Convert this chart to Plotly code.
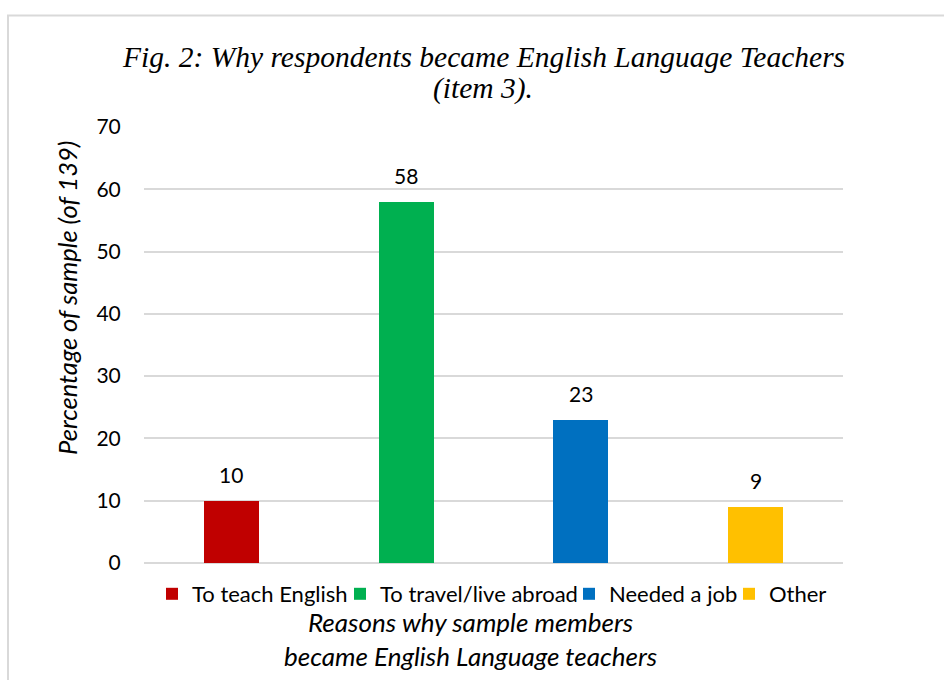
import plotly.graph_objects as go

# Survey results: why respondents became English language teachers
categories = ["To teach English", "To travel/live abroad", "Needed a job", "Other"]
percentages = [10, 58, 23, 9]
bar_colors = ["#C00000", "#00B050", "#0070C0", "#FFC000"]
y_ticks = [0, 10, 20, 30, 40, 50, 60, 70]

title_lines = ["Fig. 2: Why respondents became English Language Teachers", "(item 3)."]
y_title = "Percentage of sample (of 139)"
x_title = "Reasons why sample members<br>became English Language teachers"

SANS = "Lato, 'Open Sans', sans-serif"
SERIF = "'Liberation Serif', 'Times New Roman', serif"

W, H = 944, 680
L, R, T, B = 144, 101, 127, 117
pw, ph = W - L - R, H - T - B


def px_x(p):
    return (p - L) / pw


def px_y(p):
    return (H - B - p) / ph


# left edge (px) of each legend swatch, one legend box per series
legend_left = [166, 354, 583, 743]

fig = go.Figure()
legend_layouts = {}
for i, (name, val, col) in enumerate(zip(categories, percentages, bar_colors)):
    lg = "legend" if i == 0 else f"legend{i + 1}"
    fig.add_trace(go.Bar(
        x=[name], y=[val], name=name, legend=lg,
        marker=dict(color=col, line=dict(width=0)),
        width=0.315, hoverinfo="x+y",
    ))
    legend_layouts[lg] = dict(
        orientation="h", x=px_x(legend_left[i] - 14), xanchor="left",
        y=px_y(594), yanchor="middle",
        font=dict(family=SANS, size=22, color="#000000"),
        bgcolor="rgba(0,0,0,0)", borderwidth=0,
        itemclick=False, itemdoubleclick=False,
    )
    fig.add_annotation(
        x=name, y=val, xref="x", yref="y", text=str(val), showarrow=False,
        yanchor="bottom", yshift=12, font=dict(family=SANS, size=21, color="#000000"),
    )

# Chart title, two lines
for line, ypx in zip(title_lines, [57, 88]):
    fig.add_annotation(
        x=px_x(483), y=px_y(ypx), xref="paper", yref="paper", text=f"<i>{line}</i>",
        showarrow=False, xanchor="center", yanchor="middle", align="center",
        font=dict(family=SERIF, size=29.5, color="#000000"),
    )
# Axis titles
fig.add_annotation(
    x=px_x(67), y=px_y(298), xref="paper", yref="paper", text=f"<i>{y_title}</i>",
    showarrow=False, textangle=-90, xanchor="center", yanchor="middle",
    font=dict(family=SANS, size=25.5, color="#000000"),
)
fig.add_annotation(
    x=px_x(470), y=px_y(639), xref="paper", yref="paper", text=f"<i>{x_title}</i>",
    showarrow=False, xanchor="center", yanchor="middle", align="center",
    font=dict(family=SANS, size=26, color="#000000"),
)

# Chart area frame
fig.add_shape(
    type="rect", xref="paper", yref="paper",
    x0=px_x(8), x1=px_x(960), y0=px_y(700), y1=px_y(15.5),
    line=dict(color="#d9d9d9", width=2), fillcolor="rgba(0,0,0,0)", layer="below",
)

fig.update_layout(
    width=W, height=H,
    margin=dict(l=L, r=R, t=T, b=B, autoexpand=False),
    paper_bgcolor="#ffffff", plot_bgcolor="#ffffff",
    barmode="overlay", bargap=0,
    showlegend=True,
    xaxis=dict(
        categoryorder="array", categoryarray=categories,
        showticklabels=False, showgrid=False, showline=False, zeroline=False,
        range=[-0.5, 3.5],
    ),
    yaxis=dict(
        range=[0, 70], tickvals=y_ticks, showgrid=True, gridcolor="#d9d9d9", gridwidth=1.5,
        zeroline=True, zerolinecolor="#d9d9d9", zerolinewidth=1.5, showline=False,
        ticks="outside", ticklen=18, tickcolor="rgba(0,0,0,0)",
        tickfont=dict(family=SANS, size=21, color="#000000"),
    ),
    **legend_layouts,
)

fig.write_html("out.html")
